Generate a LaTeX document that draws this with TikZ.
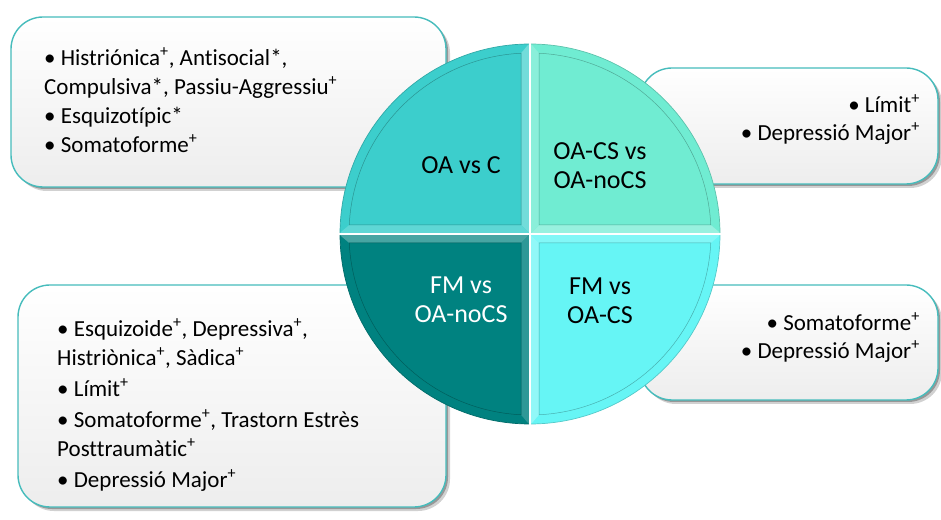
\documentclass[tikz,border=0pt]{standalone}
\usepackage{fontspec}
\setmainfont{Carlito}[Ligatures=NoCommon]
\usetikzlibrary{shadows}
\definecolor{qTL}{RGB}{60,206,204}
\definecolor{qTR}{RGB}{112,236,210}
\definecolor{qBL}{RGB}{0,130,128}
\definecolor{qBR}{RGB}{102,245,245}
\definecolor{boxedge}{RGB}{70,188,188}
\newcommand{\qsector}[2]{%
 \begin{scope}[shift={(530,285)},rotate=#1]
  \fill[#2] (-1.2,1.2) -- (90.36:190) arc[start angle=90.36,end angle=179.64,radius=190] -- cycle;
  \fill[#2!72!white] (-1.2,1.2) -- (90.36:190) -- (92.85:181) -- (-9,9) -- cycle;
  \fill[#2!82!white] (-1.2,1.2) -- (-9,9) -- (177.15:181) -- (179.64:190) -- cycle;
  \filldraw[fill=#2, draw=#2!72!black, line width=0.5pt] (-9,9) -- (92.85:181) arc[start angle=92.85,end angle=177.15,radius=181] -- cycle;
  \draw[#2!82!black, line width=0.7pt] (90.36:190) arc[start angle=90.36,end angle=179.64,radius=190];
 \end{scope}}
\tikzset{
 infobox/.style={rectangle, rounded corners=32pt, draw=boxedge, line width=1.4pt,
   top color=white, bottom color=black!7, inner sep=0pt,
   drop shadow={shadow xshift=4pt, shadow yshift=-4pt, opacity=0.18, fill=black},
   drop shadow={shadow xshift=2pt, shadow yshift=-2pt, opacity=0.28, fill=black}},
 boxtxt/.style={inner sep=0pt, font=\fontsize{23}{29}\selectfont},
 qtxt/.style={inner sep=0pt, font=\fontsize{26}{29}\selectfont, align=center},
}
\begin{document}
\begin{tikzpicture}[x=1pt,y=1pt]
\useasboundingbox (0,0) rectangle (941,519);
% boxes
\node[infobox, minimum width=435pt, minimum height=170pt] (tlbox) at (228.5,417) {};
\node[infobox, minimum width=298pt, minimum height=116pt] (trbox) at (789,393) {};
\node[infobox, minimum width=298pt, minimum height=115pt] (brbox) at (789,176.5) {};
\node[infobox, minimum width=428pt, minimum height=222pt] (blbox) at (232,123) {};
% box texts
\node[boxtxt, align=left, anchor=north west] (tltext) at (44,474.3)
 {\strut• Histriónica\textsuperscript{+}, Antisocial*,\\
  Compulsiva*, Passiu-Aggressiu\textsuperscript{+}\\
  • Esquizotípic*\\
  • Somatoforme\textsuperscript{+}};
\node[boxtxt, align=right, anchor=north east, font=\fontsize{23}{28}\selectfont] (trtext) at (920,426.6)
 {\strut• Límit\textsuperscript{+}\\
  • Depressió Major\textsuperscript{+}};
\node[boxtxt, align=right, anchor=north east, font=\fontsize{23}{28}\selectfont] (brtext) at (920,208.6)
 {\strut• Somatoforme\textsuperscript{+}\\
  • Depressió Major\textsuperscript{+}};
\node[boxtxt, align=left, anchor=north west] (bltext) at (57,202.6)
 {\strut• Esquizoide\textsuperscript{+}, Depressiva\textsuperscript{+},\\
  Histriònica\textsuperscript{+}, Sàdica\textsuperscript{+}\\[2pt]
  • Límit\textsuperscript{+}\\[2pt]
  • Somatoforme\textsuperscript{+}, Trastorn Estrès\\
  Posttraumàtic\textsuperscript{+}\\[2pt]
  • Depressió Major\textsuperscript{+}};
% circle
\qsector{0}{qTL}
\qsector{-90}{qTR}
\qsector{90}{qBL}
\qsector{180}{qBR}
% quadrant texts
\node[qtxt, anchor=base] (oac) at (461,345) {OA vs C};
\node[qtxt, anchor=north] (oacs) at (600,380) {\strut OA-CS vs\\ OA-noCS};
\node[qtxt, anchor=north, text=white] (fmnocs) at (461,246) {\strut FM vs\\ OA-noCS};
\node[qtxt, anchor=north] (fmcs) at (600,245.3) {\strut FM vs\\ OA-CS};
\end{tikzpicture}
\end{document}
